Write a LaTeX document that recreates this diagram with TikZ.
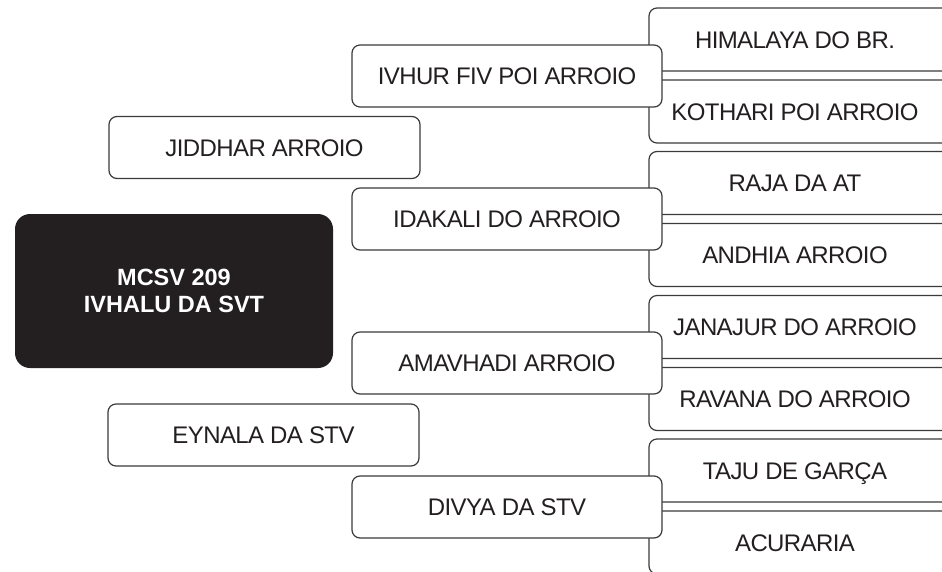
\documentclass[tikz,border=0pt]{standalone}
\usepackage{fontspec}
\setmainfont{Liberation Sans}
\newfontfamily\boxfont{Liberation Sans}[LetterSpace=-2.5]
\definecolor{ink}{HTML}{231F20}
\definecolor{edge}{HTML}{3C3A3B}
\tikzset{
  box/.style={draw=edge, line width=1.2pt, rounded corners=8pt, fill=white,
    minimum width=310pt, minimum height=62pt, inner sep=0pt,
    font=\boxfont\fontsize{24}{28}\selectfont, text=ink, text height=17pt, text depth=0pt},
  rbox/.style={box, minimum width=320pt, minimum height=63pt},
  hub/.style={fill=ink, rounded corners=15pt, minimum width=318pt, minimum height=154pt,
    inner sep=0pt, text=white, font=\bfseries\fontsize{23.5}{26.5}\selectfont, align=center}
}
\newcommand{\rtext}[1]{\makebox[292pt]{#1}\hspace*{28pt}}
\begin{document}
\begin{tikzpicture}[x=1pt,y=-1pt]
\useasboundingbox (0,0) rectangle (942,571);
\clip (0,0) rectangle (942,571);
% right boxes
\node[rbox] (r1a) at (809,39.5) {\rtext{HIMALAYA DO BR.}};
\node[rbox] (r1b) at (809,111.5) {\rtext{KOTHARI POI ARROIO}};
\node[rbox] (r2a) at (809,183) {\rtext{RAJA DA AT}};
\node[rbox] (r2b) at (809,255) {\rtext{ANDHIA ARROIO}};
\node[rbox] (r3a) at (809,327) {\rtext{JANAJUR DO ARROIO}};
\node[rbox] (r3b) at (809,399) {\rtext{RAVANA DO ARROIO}};
\node[rbox] (r4a) at (809,470.5) {\rtext{TAJU DE GARÇA}};
\node[rbox] (r4b) at (809,542.5) {\rtext{ACURARIA}};
% middle boxes
\node[box] (m1) at (507,76) {IVHUR FIV POI ARROIO};
\node[box] (m2) at (507,219) {IDAKALI DO ARROIO};
\node[box] (m3) at (507,363) {AMAVHADI ARROIO};
\node[box] (m4) at (507,507) {DIVYA DA STV};
% left boxes
\node[box, minimum width=311pt] (l1) at (264.5,147.5) {JIDDHAR ARROIO};
\node[box, minimum width=311pt] (l2) at (263.5,435) {EYNALA DA STV};
% hub
\node[hub] (hub) at (174,291) {MCSV 209\\IVHALU DA SVT};
\end{tikzpicture}
\end{document}
